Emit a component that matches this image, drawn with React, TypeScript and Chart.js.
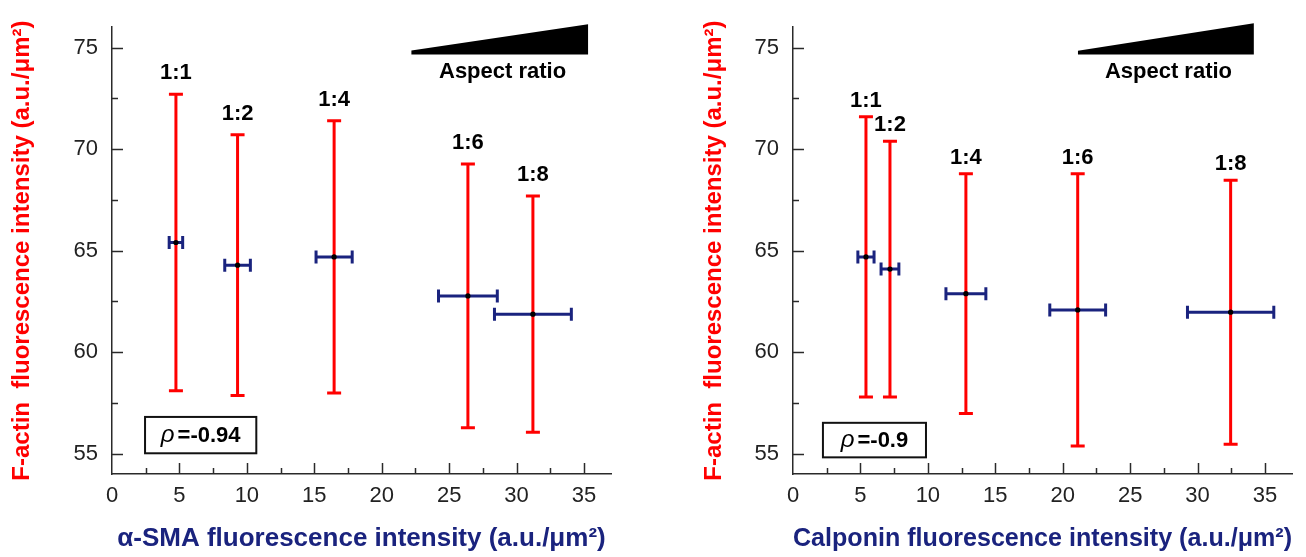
import React, { useEffect, useRef } from 'react';
import { Chart, registerables } from 'chart.js';

Chart.register(...registerables);

// ---------- data ----------
const ratioLabels = ['1:1', '1:2', '1:4', '1:6', '1:8'];

// Left panel: α-SMA vs F-actin
const smaMean = [4.74, 9.31, 16.47, 26.39, 31.21];
const smaErr = [0.5, 0.95, 1.34, 2.18, 2.85];
const actinMeanL = [65.4, 64.28, 64.69, 62.77, 61.87];
const actinSdL = [7.3, 6.42, 6.7, 6.49, 5.82];

// Right panel: Calponin vs F-actin
const calMean = [5.41, 7.19, 12.82, 21.11, 32.45];
const calErr = [0.6, 0.66, 1.48, 2.07, 3.2];
const actinMeanR = [64.69, 64.09, 62.88, 62.08, 61.97];
const actinSdR = [6.9, 6.3, 5.9, 6.7, 6.5];

const xTicks = [0, 5, 10, 15, 20, 25, 30, 35];
const yTicks = [55, 60, 65, 70, 75];
const rhoLeft = '=-0.94';
const rhoRight = '=-0.9';

// ---------- styles ----------
const RED = '#ff0000';
const NAVY = '#1a237e';
const AXIS = '#2a2a2a';
const FONT = '"Liberation Sans", Arial, Helvetica, sans-serif';

Chart.defaults.font.family = FONT;

type Deco = {
  tri: { x0: number; x1: number; yb: number; yt: number; ytip: number };
  aspect: { x: number; y: number };
  box: { x0: number; x1: number; y0: number; y1: number };
  rho: string;
  labelGap: number;
};

function makePlugin(xm: number[], ym: number[], sd: number[], deco: Deco) {
  return {
    id: 'deco',
    afterDraw(chart: any) {
      const { ctx, chartArea } = chart;
      const xs = chart.scales.x;
      const ys = chart.scales.y;
      ctx.save();
      // inward ticks
      ctx.strokeStyle = AXIS;
      ctx.lineWidth = 1.5;
      const xMinor = xTicks.map((v) => v + 2.5).filter((v) => v < xs.max);
      const yMinor = yTicks.map((v) => v - 2.5).concat([yTicks[yTicks.length - 1] + 2.5]).filter((v) => v > ys.min && v < ys.max);
      const drawX = (v: number, len: number) => {
        const px = Math.round(xs.getPixelForValue(v)) + 0.5;
        ctx.beginPath();
        ctx.moveTo(px, chartArea.bottom);
        ctx.lineTo(px, chartArea.bottom - len);
        ctx.stroke();
      };
      const drawY = (v: number, len: number) => {
        const py = Math.round(ys.getPixelForValue(v)) + 0.5;
        ctx.beginPath();
        ctx.moveTo(chartArea.left, py);
        ctx.lineTo(chartArea.left + len, py);
        ctx.stroke();
      };
      xTicks.filter((v) => v > 0).forEach((v) => drawX(v, 11));
      xMinor.forEach((v) => drawX(v, 6));
      yTicks.forEach((v) => drawY(v, 11));
      yMinor.forEach((v) => drawY(v, 6));

      // ratio labels
      ctx.fillStyle = '#000';
      ctx.font = `bold 22px ${FONT}`;
      ctx.textAlign = 'center';
      ctx.textBaseline = 'middle';
      ratioLabels.forEach((t, i) => {
        const px = xs.getPixelForValue(xm[i]);
        const py = ys.getPixelForValue(ym[i] + sd[i]);
        ctx.fillText(t, px, py - deco.labelGap);
      });

      // aspect triangle
      const t = deco.tri;
      ctx.beginPath();
      ctx.moveTo(xs.getPixelForValue(t.x0), ys.getPixelForValue(t.ytip));
      ctx.lineTo(xs.getPixelForValue(t.x1), ys.getPixelForValue(t.yt));
      ctx.lineTo(xs.getPixelForValue(t.x1), ys.getPixelForValue(t.yb));
      ctx.lineTo(xs.getPixelForValue(t.x0), ys.getPixelForValue(t.yb));
      ctx.closePath();
      ctx.fillStyle = '#000';
      ctx.fill();
      ctx.font = `bold 22px ${FONT}`;
      ctx.fillText('Aspect ratio', xs.getPixelForValue(deco.aspect.x), ys.getPixelForValue(deco.aspect.y));

      // rho box
      const b = deco.box;
      const bx0 = xs.getPixelForValue(b.x0);
      const bx1 = xs.getPixelForValue(b.x1);
      const by0 = ys.getPixelForValue(b.y0);
      const by1 = ys.getPixelForValue(b.y1);
      ctx.fillStyle = '#fff';
      ctx.fillRect(bx0, by0, bx1 - bx0, by1 - by0);
      ctx.lineWidth = 2;
      ctx.strokeStyle = '#111';
      ctx.strokeRect(bx0, by0, bx1 - bx0, by1 - by0);
      const fRho = `italic 24px ${FONT}`;
      const fVal = `bold 22px ${FONT}`;
      ctx.font = fRho;
      const wRho = ctx.measureText('ρ').width;
      ctx.font = fVal;
      const wVal = ctx.measureText(deco.rho).width;
      const gap = 3;
      const total = wRho + gap + wVal;
      const cx = (bx0 + bx1) / 2;
      const cy = (by0 + by1) / 2 + 1;
      ctx.textAlign = 'left';
      ctx.fillStyle = '#000';
      ctx.font = fRho;
      ctx.fillText('ρ', cx - total / 2, cy - 1);
      ctx.font = fVal;
      ctx.fillText(deco.rho, cx - total / 2 + wRho + gap, cy);
      ctx.restore();
    },
  };
}

function buildConfig(
  xm: number[], xe: number[], ym: number[], sd: number[],
  xTitle: string, yWidth: number, padRight: number, yTitlePad: number, deco: Deco
): any {
  const datasets: any[] = [];
  datasets.push({
    data: xm.map((x, i) => ({ x, y: ym[i] })),
    showLine: false,
    pointRadius: 2.6,
    pointBackgroundColor: '#000',
    pointBorderColor: '#000',
    pointBorderWidth: 0,
    order: 0,
  });
  xm.forEach((x, i) => {
    datasets.push({
      data: [{ x: x - xe[i], y: ym[i] }, { x: x + xe[i], y: ym[i] }],
      showLine: true,
      borderColor: NAVY,
      borderWidth: 3,
      pointStyle: 'line',
      pointRotation: 90,
      pointRadius: 6.5,
      pointBorderWidth: 3,
      pointBorderColor: NAVY,
      pointBackgroundColor: NAVY,
      order: 1,
    });
  });
  xm.forEach((x, i) => {
    datasets.push({
      data: [{ x, y: ym[i] - sd[i] }, { x, y: ym[i] + sd[i] }],
      showLine: true,
      borderColor: RED,
      borderWidth: 3,
      pointStyle: 'line',
      pointRadius: 7,
      pointBorderWidth: 3,
      pointBorderColor: RED,
      pointBackgroundColor: RED,
      order: 2,
    });
  });

  return {
    type: 'scatter',
    data: { datasets },
    options: {
      animation: false,
      responsive: true,
      maintainAspectRatio: false,
      events: [],
      layout: { padding: { left: 0, right: padRight, top: 20, bottom: 0 } },
      plugins: { legend: { display: false }, tooltip: { enabled: false } },
      scales: {
        x: {
          type: 'linear',
          min: 0,
          max: 37,
          afterBuildTicks: (s: any) => { s.ticks = xTicks.map((v) => ({ value: v })); },
          afterFit: (s: any) => { s.height = 83; },
          grid: { display: false, drawTicks: false },
          border: { display: true, color: AXIS, width: 1.5 },
          ticks: { color: '#222', font: { size: 22 }, padding: 9, maxRotation: 0 },
          title: {
            display: true,
            text: xTitle,
            color: NAVY,
            font: { size: 26, weight: 'bold' },
            padding: { top: 0, bottom: 3 },
          },
        },
        y: {
          type: 'linear',
          min: 54,
          max: 76,
          afterBuildTicks: (s: any) => { s.ticks = yTicks.map((v) => ({ value: v })); },
          afterFit: (s: any) => { s.width = yWidth; },
          grid: { display: false, drawTicks: false },
          border: { display: true, color: AXIS, width: 1.5 },
          ticks: { color: '#222', font: { size: 22 }, padding: 14 },
          title: {
            display: true,
            text: 'F-actin  fluorescence intensity (a.u./μm²)',
            color: RED,
            font: { size: 24, weight: 'bold' },
            padding: { top: yTitlePad, bottom: 0 },
          },
        },
      },
    },
    plugins: [makePlugin(xm, ym, sd, deco)],
  };
}

function Panel(props: { left: number; config: () => any }) {
  const ref = useRef<HTMLCanvasElement | null>(null);
  useEffect(() => {
    const chart = new Chart(ref.current as HTMLCanvasElement, props.config());
    return () => chart.destroy();
  }, []);
  return (
    <div style={{ position: 'absolute', left: props.left, top: 0, width: 653, height: 557 }}>
      <canvas ref={ref} />
    </div>
  );
}

const decoLeft: Deco = {
  tri: { x0: 22.2, x1: 35.3, yb: 74.66, yt: 76.15, ytip: 74.85 },
  aspect: { x: 28.96, y: 73.8 },
  box: { x0: 2.45, x1: 10.7, y0: 56.81, y1: 55.02 },
  rho: rhoLeft,
  labelGap: 21,
};

const decoRight: Deco = {
  tri: { x0: 21.13, x1: 34.17, yb: 74.66, yt: 76.19, ytip: 74.84 },
  aspect: { x: 27.84, y: 73.8 },
  box: { x0: 2.22, x1: 9.86, y0: 56.52, y1: 54.82 },
  rho: rhoRight,
  labelGap: 16,
};

export default function App() {
  return (
    <div style={{ position: 'absolute', left: 0, top: 0, width: 1306, height: 557, background: '#fff' }}>
      <Panel
        left={0}
        config={() => buildConfig(smaMean, smaErr, actinMeanL, actinSdL,
          'α-SMA fluorescence intensity (a.u./μm²)', 112, 42, 7.6, decoLeft)}
      />
      <Panel
        left={653}
        config={() => buildConfig(calMean, calErr, actinMeanR, actinSdR,
          'Calponin fluorescence intensity (a.u./μm²)', 140, 14, 46.6, decoRight)}
      />
    </div>
  );
}
